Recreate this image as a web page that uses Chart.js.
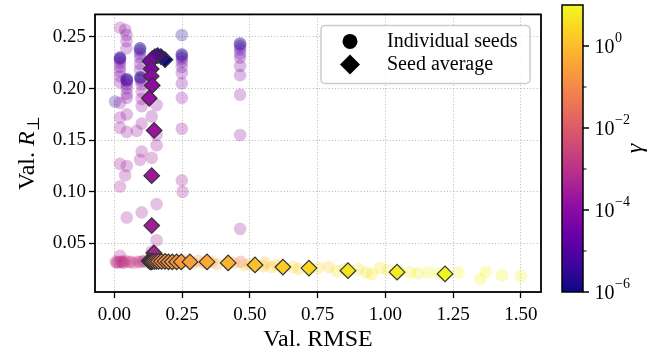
<!DOCTYPE html>
<html>
<head>
<meta charset="utf-8">
<script src="https://cdn.jsdelivr.net/npm/chart.js@4.4.1/dist/chart.umd.min.js"></script>
<style>
  html, body { margin: 0; padding: 0; background: #fff; }
  #wrap { position: relative; width: 649px; height: 356px; }
  #wrap canvas { position: absolute; left: 0; top: 0; }
</style>
</head>
<body>
<div id="wrap">
  <canvas id="main" width="649" height="356"></canvas>
  <canvas id="cbar" width="649" height="356"></canvas>
</div>
<script>
// axis ticks
const xTicks = [0, 0.25, 0.5, 0.75, 1.0, 1.25, 1.5];
const yTicks = [0.05, 0.10, 0.15, 0.20, 0.25];
const cbMajor = [-6, -4, -2, 0];
const cbMinor = [-5, -3, -1];
const cbMin = 1e-6;
const cbMax = 10;
const legendLabels = ["Individual seeds", "Seed average"];

// seed averages (one per gamma)
const avgGamma = [1e-6, 2e-6, 5e-6, 1e-5, 2e-5, 5e-5, 7e-5, 1e-4, 1.2e-4, 1.5e-4, 2e-4, 2.5e-4, 3e-4, 4e-4,
  6e-4, 1e-3, 3e-3, 1e-2, 3e-2,
  0.05, 0.07, 0.09, 0.11, 0.13, 0.15, 0.18, 0.21, 0.25,
  0.3, 0.45, 0.65,
  1.2, 1.8, 2.7, 4, 6, 9];
const avgX = [0.187, 0.172, 0.160, 0.150, 0.140, 0.132, 0.136, 0.136, 0.140, 0.129, 0.147, 0.138, 0.138, 0.146,
  0.128, 0.131, 0.134, 0.137, 0.141,
  0.147, 0.155, 0.163, 0.174, 0.187, 0.200, 0.214, 0.230, 0.247,
  0.279, 0.342, 0.420,
  0.519, 0.622, 0.718, 0.862, 1.043, 1.220];
const avgY = [0.228, 0.231, 0.232, 0.231, 0.229, 0.2265, 0.219, 0.212, 0.203, 0.1906, 0.1594, 0.1156, 0.0672, 0.0406,
  0.033, 0.0325, 0.032, 0.032, 0.0325,
  0.0325, 0.0325, 0.0325, 0.0325, 0.0325, 0.032, 0.032, 0.032, 0.032,
  0.032, 0.032, 0.031,
  0.029, 0.027, 0.026, 0.0235, 0.022, 0.0203];

// individual seeds
const seedX = [
  0.021, 0.021, 0.021, 0.021, 0.021, 0.021, 0.021, 0.021, 0.021, 0.021, 0.003, 0.021, 0.021, 0.021, 0.021, 0.021, 0.021,
  0.040, 0.045, 0.045, 0.045, 0.046, 0.046, 0.046, 0.046, 0.046, 0.046, 0.046, 0.046, 0.046, 0.046, 0.046, 0.040, 0.046,
  0.095, 0.095, 0.095, 0.095, 0.095, 0.095, 0.095, 0.097, 0.097, 0.097, 0.097, 0.101, 0.101, 0.101, 0.101, 0.101, 0.083, 0.101, 0.095, 0.101,
  0.138, 0.156, 0.156, 0.156, 0.138, 0.156, 0.156, 0.138,
  0.249, 0.249, 0.249, 0.249, 0.249, 0.249, 0.249, 0.249, 0.249, 0.249, 0.249, 0.249, 0.252,
  0.464, 0.464, 0.464, 0.464, 0.464, 0.464, 0.464, 0.464, 0.464, 0.464, 0.464,
  0.005, 0.012, 0.020, 0.030, 0.040, 0.060, 0.085, 0.105, 0.120, 0.130, 0.466, 0.010, 0.035, 0.070, 0.110, 0.025, 0.050, 0.095,
  0.140, 0.150, 0.170, 0.190, 0.210, 0.230, 0.260, 0.290, 0.310, 0.330, 0.360, 0.380, 0.440, 0.500, 0.556,
  0.480, 0.550, 0.580, 0.600, 0.660, 0.680, 0.750, 0.790, 0.820, 0.850, 0.900, 0.930, 0.950, 0.980, 1.010, 1.050, 1.090, 1.120, 1.160, 1.200, 1.270, 1.350, 1.370, 1.430, 1.500
];
const seedY = [
  0.259, 0.230, 0.230, 0.229, 0.228, 0.225, 0.221, 0.217, 0.212, 0.206, 0.1875, 0.186, 0.172, 0.162, 0.127, 0.105, 0.038,
  0.257, 0.252, 0.246, 0.239, 0.209, 0.209, 0.208, 0.207, 0.204, 0.200, 0.195, 0.191, 0.175, 0.158, 0.125, 0.116, 0.075,
  0.239, 0.239, 0.237, 0.234, 0.230, 0.224, 0.218, 0.211, 0.211, 0.210, 0.208, 0.204, 0.197, 0.190, 0.183, 0.166, 0.159, 0.139, 0.131, 0.080,
  0.173, 0.184, 0.155, 0.145, 0.133, 0.088, 0.053, 0.042,
  0.252, 0.233, 0.233, 0.231, 0.229, 0.226, 0.221, 0.215, 0.205, 0.191, 0.161, 0.111, 0.100,
  0.244, 0.243, 0.241, 0.238, 0.234, 0.230, 0.222, 0.213, 0.194, 0.155, 0.064,
  0.032, 0.032, 0.032, 0.032, 0.033, 0.032, 0.032, 0.032, 0.032, 0.033, 0.032, 0.031, 0.031, 0.031, 0.033, 0.032, 0.032, 0.032,
  0.033, 0.032, 0.033, 0.034, 0.033, 0.031, 0.033, 0.031, 0.033, 0.031, 0.032, 0.030, 0.031, 0.030, 0.031,
  0.029, 0.028, 0.027, 0.029, 0.027, 0.025, 0.026, 0.027, 0.023, 0.025, 0.025, 0.022, 0.020, 0.026, 0.024, 0.023, 0.022, 0.021, 0.022, 0.021, 0.022, 0.0155, 0.0225, 0.019, 0.018
];
const seedGamma = [
  3e-4, 1e-6, 2e-6, 5e-6, 1e-5, 2e-5, 5e-5, 7e-5, 1e-4, 1.2e-4, 2e-6, 1.5e-4, 2e-4, 2e-4, 2.5e-4, 3e-4, 4e-4,
  5e-5, 7e-5, 1e-4, 1.2e-4, 1e-6, 2e-6, 5e-6, 1e-5, 2e-5, 5e-5, 7e-5, 1e-4, 1.5e-4, 2e-4, 2.5e-4, 2.5e-4, 3e-4,
  1e-6, 2e-6, 5e-6, 1e-5, 2e-5, 5e-5, 7e-5, 1e-6, 2e-6, 5e-6, 1e-5, 1e-4, 1.2e-4, 1.2e-4, 1.5e-4, 2e-4, 2e-4, 2.5e-4, 2.5e-4, 3e-4,
  1.5e-4, 1.5e-4, 2e-4, 2e-4, 2.5e-4, 3e-4, 4e-4, 4e-4,
  2e-6, 1e-6, 2e-6, 5e-6, 1e-5, 2e-5, 5e-5, 7e-5, 1e-4, 1.5e-4, 2e-4, 2.5e-4, 3e-4,
  1e-6, 2e-6, 5e-6, 1e-5, 2e-5, 5e-5, 7e-5, 1e-4, 1.5e-4, 2e-4, 3e-4,
  1e-3, 6e-4, 3e-3, 1e-3, 3e-3, 6e-4, 1e-3, 3e-3, 1e-2, 6e-4, 1e-2, 3e-3, 6e-4, 3e-3, 1e-3, 1e-3, 3e-3, 1e-3,
  0.03, 0.05, 0.07, 0.09, 0.11, 0.13, 0.15, 0.18, 0.21, 0.25, 0.3, 0.45, 0.45, 0.65, 0.65,
  1.2, 1.2, 1.8, 1.2, 2.7, 1.8, 2.7, 1.8, 4, 2.7, 4, 4, 6, 4, 6, 6, 9, 6, 9, 9, 9, 9, 9, 9, 9
];

const FONT = "'Liberation Serif', 'Times New Roman', serif";
Chart.defaults.font.family = FONT;
Chart.defaults.color = "#000";

// plasma colormap
const plasma = ["#0d0887", "#41049d", "#6a00a8", "#8f0da4", "#b12a90", "#cc4778",
  "#e16462", "#f2844b", "#fca636", "#fcce25", "#f0f921"];
const plasmaRgb = plasma.map((h) => [1, 3, 5].map((i) => parseInt(h.substr(i, 2), 16)));

function gammaColor(g, alpha) {
  const lo = Math.log10(cbMin), hi = Math.log10(cbMax);
  let t = (Math.log10(g) - lo) / (hi - lo);
  t = Math.min(1, Math.max(0, t));
  const f = t * (plasmaRgb.length - 1);
  const i = Math.min(plasmaRgb.length - 2, Math.floor(f));
  const u = f - i;
  const c = plasmaRgb[i].map((v, k) => Math.round(v + (plasmaRgb[i + 1][k] - v) * u));
  return `rgba(${c[0]}, ${c[1]}, ${c[2]}, ${alpha})`;
}

const seedPoints = seedX.map((x, i) => ({ x: x, y: seedY[i] }));
const avgPoints = avgX.map((x, i) => ({ x: x, y: avgY[i] }));

const mainDecor = {
  id: "mainDecor",
  afterDraw(chart) {
    const { ctx, chartArea: a } = chart;
    ctx.save();
    ctx.strokeStyle = "#000";
    ctx.lineWidth = 1.8;
    ctx.strokeRect(a.left, a.top, a.right - a.left, a.bottom - a.top);

    // y title: Val. R_perp
    ctx.save();
    ctx.translate(34, (a.top + a.bottom) / 2);
    ctx.rotate(-Math.PI / 2);
    ctx.fillStyle = "#000";
    ctx.textBaseline = "alphabetic";
    const parts = [
      { t: "Val. ", f: "24px " + FONT, dy: 0 },
      { t: "R", f: "italic 24px " + FONT, dy: 0 },
      { t: "\u22a5", f: "17px " + FONT, dy: 5 },
    ];
    let total = 0;
    parts.forEach((p) => { ctx.font = p.f; p.w = ctx.measureText(p.t).width; total += p.w; });
    let x0 = -total / 2;
    parts.forEach((p) => { ctx.font = p.f; ctx.fillText(p.t, x0, p.dy); x0 += p.w; });
    ctx.restore();

    // legend
    const lx = a.right - 220, ly = a.top + 11, lw = 209, lh = 58;
    ctx.beginPath();
    ctx.roundRect(lx, ly, lw, lh, 4);
    ctx.fillStyle = "rgba(255,255,255,0.85)";
    ctx.fill();
    ctx.strokeStyle = "#cccccc";
    ctx.lineWidth = 1.5;
    ctx.stroke();
    ctx.fillStyle = "#000";
    ctx.beginPath();
    ctx.arc(lx + 29, ly + 16, 7.5, 0, Math.PI * 2);
    ctx.fill();
    const dx = lx + 29, dyy = ly + 39, r = 10;
    ctx.beginPath();
    ctx.moveTo(dx, dyy - r); ctx.lineTo(dx + r, dyy); ctx.lineTo(dx, dyy + r); ctx.lineTo(dx - r, dyy);
    ctx.closePath();
    ctx.fill();
    ctx.font = "20px " + FONT;
    ctx.textBaseline = "middle";
    ctx.fillText(legendLabels[0], lx + 66, ly + 16);
    ctx.fillText(legendLabels[1], lx + 66, ly + 39);
    ctx.restore();
  },
};

new Chart(document.getElementById("main"), {
  type: "scatter",
  data: {
    datasets: [
      {
        label: legendLabels[1],
        data: avgPoints,
        order: 1,
        pointStyle: "rectRot",
        pointRadius: 7.8,
        pointBackgroundColor: avgGamma.map((g) => gammaColor(g, 1)),
        pointBorderColor: "#333333",
        pointBorderWidth: 1.2,
      },
      {
        label: legendLabels[0],
        data: seedPoints,
        order: 2,
        pointStyle: "circle",
        pointRadius: 6.3,
        pointBackgroundColor: seedGamma.map((g) => gammaColor(g, 0.28)),
        pointBorderWidth: 0,
      },
    ],
  },
  options: {
    responsive: false,
    animation: false,
    events: [],
    layout: { padding: { left: 0, right: 108, top: 5, bottom: 0 } },
    plugins: { legend: { display: false }, tooltip: { enabled: false } },
    scales: {
      x: {
        type: "linear",
        min: -0.0712,
        max: 1.574,
        afterFit: (s) => { s.height = 64; },
        afterBuildTicks: (s) => { s.ticks = xTicks.map((v) => ({ value: v })); },
        ticks: { font: { size: 19 }, padding: 6, maxRotation: 0, callback: (v) => v.toFixed(2) },
        grid: { color: "#b0b0b0", lineWidth: 0.8, tickColor: "#000", tickLength: 6, tickWidth: 1.3, tickBorderDash: [] },
        border: { display: false, dash: [1.2, 2] },
        title: { display: true, text: "Val. RMSE", font: { size: 24 }, padding: { top: 0, bottom: 2 } },
      },
      y: {
        type: "linear",
        min: 0.0028,
        max: 0.2719,
        afterFit: (s) => { s.width = 95; },
        afterBuildTicks: (s) => { s.ticks = yTicks.map((v) => ({ value: v })); },
        ticks: { font: { size: 19 }, padding: 3, callback: (v) => v.toFixed(2) },
        grid: { color: "#b0b0b0", lineWidth: 0.8, tickColor: "#000", tickLength: 6, tickWidth: 1.3, tickBorderDash: [] },
        border: { display: false, dash: [1.2, 2] },
      },
    },
  },
  plugins: [mainDecor],
});

// colorbar
const cbarDecor = {
  id: "cbarDecor",
  afterDraw(chart) {
    const { ctx, chartArea: a, scales } = chart;
    const ys = scales.y;
    ctx.save();
    ctx.strokeStyle = "#000";
    ctx.fillStyle = "#000";
    ctx.lineWidth = 1.5;
    ctx.strokeRect(a.left, a.top, a.right - a.left, a.bottom - a.top);
    cbMinor.forEach((e) => {
      const y = ys.getPixelForValue(Math.pow(10, e));
      ctx.lineWidth = 1;
      ctx.beginPath(); ctx.moveTo(a.right, y); ctx.lineTo(a.right + 3.5, y); ctx.stroke();
    });
    cbMajor.forEach((e) => {
      const y = ys.getPixelForValue(Math.pow(10, e));
      ctx.lineWidth = 1.5;
      ctx.beginPath(); ctx.moveTo(a.right, y); ctx.lineTo(a.right + 6, y); ctx.stroke();
      ctx.textBaseline = "alphabetic";
      ctx.font = "20px " + FONT;
      ctx.fillText("10", a.right + 11.5, y + 7);
      const w = ctx.measureText("10").width;
      ctx.font = "14px " + FONT;
      ctx.fillText(e === 0 ? "0" : "\u2212" + Math.abs(e), a.right + 11.5 + w + 0.5, y - 4.5);
    });
    ctx.translate(636, (a.top + a.bottom) / 2);
    ctx.rotate(-Math.PI / 2);
    ctx.font = "italic 24px " + FONT;
    ctx.textAlign = "center";
    ctx.textBaseline = "middle";
    ctx.fillText("\u03b3", 0, 0);
    ctx.restore();
  },
};

function gradientFill(context) {
  const { chart } = context;
  const area = chart.chartArea;
  if (!area) return null;
  const g = chart.ctx.createLinearGradient(0, area.bottom, 0, area.top);
  plasma.forEach((c, i) => g.addColorStop(i / (plasma.length - 1), c));
  return g;
}

new Chart(document.getElementById("cbar"), {
  type: "bar",
  data: {
    labels: ["\u03b3"],
    datasets: [{
      data: [[cbMin, cbMax]],
      backgroundColor: gradientFill,
      borderWidth: 0,
      barPercentage: 1,
      categoryPercentage: 1,
    }],
  },
  options: {
    responsive: false,
    animation: false,
    events: [],
    layout: { padding: { left: 562, right: 66, top: 5, bottom: 64 } },
    plugins: { legend: { display: false }, tooltip: { enabled: false } },
    scales: {
      x: { display: false },
      y: { type: "logarithmic", display: false, min: cbMin, max: cbMax },
    },
  },
  plugins: [cbarDecor],
});
</script>
</body>
</html>
